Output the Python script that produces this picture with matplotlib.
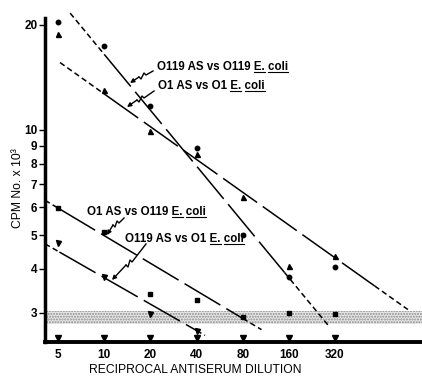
import numpy as np
import matplotlib
matplotlib.use("Agg")
import matplotlib.pyplot as plt
from matplotlib.lines import Line2D

plt.rcParams['font.family'] = ['Liberation Sans', 'DejaVu Sans']
plt.rcParams['lines.scale_dashes'] = False

# values
dilution = [5, 10, 20, 40, 80, 160, 320]
o119_vs_o119 = [20.4, 17.4, 11.7, 8.87, 4.99, 3.80, 4.05]     # circles
o1_vs_o1 = [18.8, 13.0, 9.95, 8.54, 6.44, 4.07, 4.35]          # triangles
o1_vs_o119 = [5.99, 5.10, 3.39, 3.26, 2.91, 2.99, 2.98]        # squares
dilution_short = [5, 10, 20, 40]
o119_vs_o1 = [4.75, 3.80, 2.98, 2.66]                          # triangles down

# drawn regression lines: end points and the stretch drawn in long dashes
fit_o119_vs_o119 = [(6.0, 21.6), (288, 2.76)]
fit_o1_vs_o1 = [(5.15, 15.6), (954, 3.06)]
fit_o1_vs_o119 = [(4.11, 6.29), (106, 2.68)]
fit_o119_vs_o1 = [(4.11, 4.72), (45.4, 2.58)]
long_o119_vs_o119 = (10, 150)
long_o1_vs_o1 = (10, 580)
long_o1_vs_o119 = (5.1, 80)
long_o119_vs_o1 = (5.1, 40)

background = (2.78, 3.04)

yticks = [3, 4, 5, 6, 7, 8, 9, 10, 20]
labels = ["O119 AS vs O119", "O1 AS vs O1", "O1 AS vs O119", "O119 AS vs O1"]

W, H = 422, 376
fig = plt.figure(figsize=(W / 100, H / 100), dpi=100)
ax = fig.add_axes([45 / W, 34 / H, 377 / W, 331.6 / H])
ax.set_xscale('log', base=2)
ax.set_yscale('log')
ax.set_xlim(4.11, 1180)
ax.set_ylim(2.47, 22)

SHORT = (4, 2.4)
LONG = (30, 5)


def draw_fit(ends, solid):
    (x0, y0), (x1, y1) = ends
    lx = np.log([x0, x1])
    ly = np.log([y0, y1])
    xa, xb = solid
    for xs, dash in [((x0, xa), SHORT), ((xa, xb), LONG), ((xb, x1), SHORT)]:
        ys = np.exp(np.interp(np.log(xs), lx, ly))
        ax.plot(xs, ys, color='k', lw=1.1, dashes=dash, dash_capstyle='butt')


draw_fit(fit_o119_vs_o119, long_o119_vs_o119)
draw_fit(fit_o1_vs_o1, long_o1_vs_o1)
draw_fit(fit_o1_vs_o119, long_o1_vs_o119)
draw_fit(fit_o119_vs_o1, long_o119_vs_o1)

ax.axhspan(*background, facecolor='#e8e8e8', edgecolor='#8c8c8c',
           hatch='......', lw=0, zorder=0)

ax.plot(dilution, o119_vs_o119, 'ko', ms=3.2, clip_on=False)
ax.plot(dilution, o1_vs_o1, 'k^', ms=3.6, clip_on=False)
ax.plot(dilution, o1_vs_o119, 'ks', ms=2.9, clip_on=False)
ax.plot(dilution_short, o119_vs_o1, 'kv', ms=3.6, clip_on=False)
# tick marks on the x axis drawn as little triangles
ax.plot(dilution, [0.012] * len(dilution), 'kv', ms=3.8,
        transform=ax.get_xaxis_transform(), clip_on=False)

for side in ['top', 'right']:
    ax.spines[side].set_visible(False)
ax.spines['left'].set_linewidth(2.5)
ax.spines['bottom'].set_linewidth(2.8)
ax.spines['left'].set_bounds(2.47, 20.9)

ax.set_yticks(yticks)
ax.set_yticklabels([str(t) for t in yticks])
ax.yaxis.set_minor_locator(matplotlib.ticker.NullLocator())
ax.xaxis.set_minor_locator(matplotlib.ticker.NullLocator())
ax.set_xticks(dilution)
ax.set_xticklabels([str(d) for d in dilution])
ax.tick_params(axis='y', length=4, width=1, pad=1.5, labelsize=8.5)
ax.tick_params(axis='x', length=0, pad=5, labelsize=8.5)
for lab in ax.get_xticklabels() + ax.get_yticklabels():
    lab.set_fontweight('bold')

fig.text(195 / W, 1 - 370 / H, "RECIPROCAL ANTISERUM DILUTION",
         ha='center', va='center', fontsize=8.7)
fig.text(18 / W, 1 - 188 / H, "CPM No. x 10³", rotation=90,
         ha='center', va='center', fontsize=8.7)


def fpos(x, y):
    return x / W, 1 - y / H


text_pos = [(157, 67), (158, 86), (87, 212), (125, 239)]
arrows = [
    [(153, 71), (146, 75), (144, 73), (141, 79), (139, 77), (130, 83)],
    [(154, 91), (144, 98), (142, 96), (139, 102), (137, 100), (127, 107)],
    [(124, 218), (119, 223), (117, 221), (115, 227), (113, 225), (107, 235)],
    [(146, 244), (132, 262), (130, 260), (128, 267), (126, 265), (112, 280)],
]

font = dict(family=['Liberation Sans Narrow', 'Liberation Sans'],
            fontsize=8.3, fontweight='bold')
texts = []
for lab, pos, pts in zip(labels, text_pos, arrows):
    t = fig.text(*fpos(*pos), lab + " E. coli", ha='left', va='center', **font)
    texts.append((t, lab))
    xs, ys = zip(*[fpos(*p) for p in pts])
    fig.add_artist(Line2D(xs[:-1], ys[:-1], color='k', lw=1,
                          transform=fig.transFigure))
    ax.annotate('', xy=(xs[-1], ys[-1]), xytext=(xs[-2], ys[-2]),
                xycoords='figure fraction', textcoords='figure fraction',
                arrowprops=dict(arrowstyle='-|>', color='k', lw=1,
                                mutation_scale=6, shrinkA=0, shrinkB=0))

# underline "E." and "coli"
fig.canvas.draw()
r = fig.canvas.get_renderer()


def width(s, fp):
    tmp = fig.text(0, 0, s, fontproperties=fp)
    w = tmp.get_window_extent(r).width
    tmp.remove()
    return w


for t, lab in texts:
    fp = t.get_fontproperties()
    bb = t.get_window_extent(r)
    wE = width(lab + " E.", fp)
    e0 = bb.x0 + wE - width("E.", fp)
    e1 = bb.x0 + wE
    c0 = bb.x1 - width("coli", fp)
    c1 = bb.x1
    y = bb.y0 + 1.2
    for a, b in [(e0, e1), (c0, c1)]:
        fig.add_artist(Line2D([a / W, b / W], [y / H, y / H], color='k',
                              lw=0.8, transform=fig.transFigure))

fig.savefig("out.png", dpi=100)
